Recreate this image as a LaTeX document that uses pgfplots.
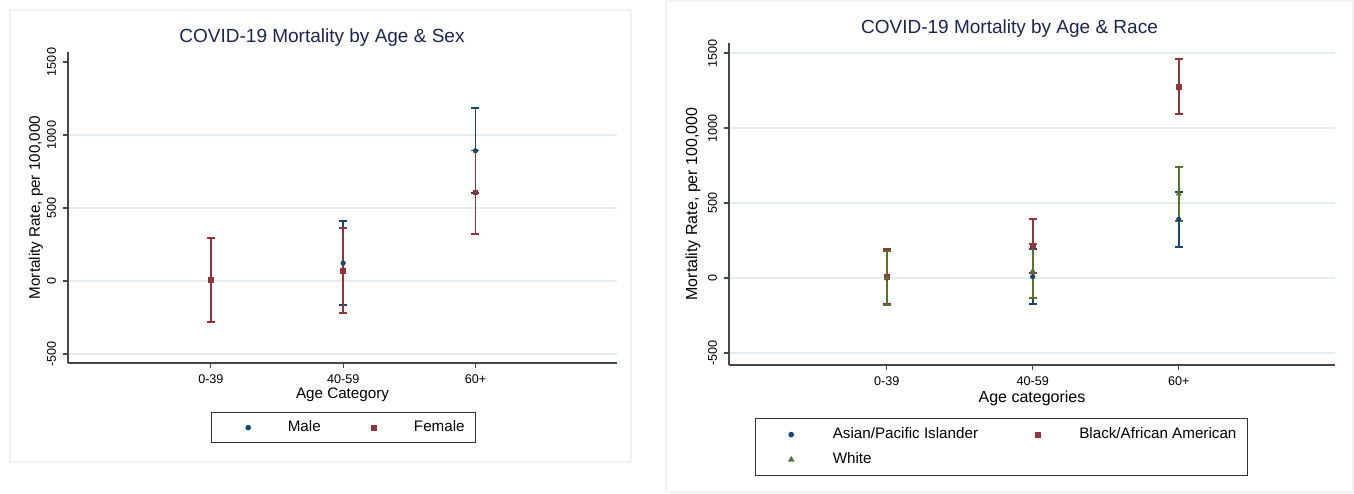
\documentclass[border=0pt]{standalone}
\usepackage{fontspec}
\setmainfont{Liberation Sans}
\usepackage{pgfplots}
\usepackage{pgfplotstable}
\pgfplotsset{compat=1.18}

\definecolor{stnavy}{RGB}{26,71,111}
\definecolor{stmaroon}{RGB}{144,53,59}
\definecolor{stgreen}{RGB}{85,117,47}
\definecolor{stgrid}{RGB}{228,238,241}
\definecolor{sttitle}{RGB}{26,38,84}
\definecolor{stframe}{RGB}{242,242,242}

% mean with lower / upper bound
\pgfplotstableread{
x  y    lo    hi
1  5    -283  297
2  123  -164  411
3  892  601   1183
}\male
\pgfplotstableread{
x  y    lo    hi
1  5    -283  297
2  71   -217  361
3  607  320   894
}\female
\pgfplotstableread{
x  y    lo    hi
1  0    -180  182
2  9    -173  191
3  391  209   575
}\asian
\pgfplotstableread{
x  y     lo    hi
1  10    -176  192
2  213   31    395
3  1276  1093  1458
}\black
\pgfplotstableread{
x  y    lo    hi
1  2    -182  183
2  47   -136  229
3  562  378   742
}\white

\pgfplotsset{
  stata/.style={
    scale only axis,
    xmin=-0.08, xmax=4.07,
    axis x line*=bottom, axis y line*=left,
    axis line style={black!72, line width=0.6pt},
    tick style={black!72, line width=0.6pt},
    tick align=outside,
    major tick length=2.5pt,
    xtick={1,2,3}, xticklabels={0-39,40-59,60+},
    ymajorgrids,
    grid style={stgrid, line width=0.7pt},
    ticklabel style={font=\fontsize{6.3}{7}\selectfont},
    yticklabel style={rotate=90, anchor=south},
    legend cell align=left,
    legend style={draw=black!80, line width=0.6pt, inner xsep=5.5pt, inner ysep=4pt,
      font=\fontsize{7.6}{9}\selectfont, anchor=north west, nodes={inner sep=0pt}},
  },
  ci/.style={only marks, color=#1, mark options={draw=#1, fill=#1},
    error bars/y dir=both, error bars/y explicit,
    error bars/error bar style={draw=#1, line width=0.95pt},
    error bars/error mark options={draw=#1, mark size=2pt, line width=0.95pt, rotate=90}},
}

\begin{document}
\begin{tikzpicture}
\useasboundingbox (0,0) rectangle (677pt,246.5pt);
% faint panel frames
\draw[stframe, line width=0.6pt] (5pt,15.5pt) rectangle (315.5pt,241.5pt);
\draw[stframe, line width=0.6pt] (333pt,0.5pt) rectangle (676.5pt,246pt);

\node[font=\fontsize{9.5}{11}\selectfont, text=sttitle] at (161pt,227.5pt) {COVID-19 Mortality by Age \& Sex};
\node[font=\fontsize{9.5}{11}\selectfont, text=sttitle] at (504.75pt,232pt) {COVID-19 Mortality by Age \& Race};

\begin{axis}[stata, at={(34pt,65pt)}, anchor=south west,
  width=274.5pt, height=155.5pt,
  ymin=-561.6, ymax=1568.5,
  ytick={-500,0,500,1000}, yticklabels={-500,0,500,1000},
  extra y ticks={1500}, extra y tick labels={1500},
  extra y tick style={ymajorgrids=false},
  xlabel={Age Category}, ylabel={Mortality Rate, per 100,000},
  every axis x label/.style={at={(axis description cs:0.5,-0.1029)}, anchor=center, font=\fontsize{7.6}{9}\selectfont},
  every axis y label/.style={at={(axis description cs:-0.0583,0.5)}, rotate=90, anchor=center, font=\fontsize{7.6}{9}\selectfont},
  legend columns=2,
  legend style={at={(0.2605,-0.1576)}, /tikz/every even column/.append style={column sep=14pt}},
  legend image code/.code={\path (-12.5pt,0pt) (19.5pt,0pt); \draw[#1] plot coordinates {(0pt,0pt)};},
]
\addplot[ci=stnavy, mark=*, mark size=1.1pt] table[x=x, y=y, y error plus expr=\thisrow{hi}-\thisrow{y}, y error minus expr=\thisrow{y}-\thisrow{lo}] {\male};
\addplot[ci=stmaroon, mark=square*, mark size=1.2pt] table[x=x, y=y, y error plus expr=\thisrow{hi}-\thisrow{y}, y error minus expr=\thisrow{y}-\thisrow{lo}] {\female};
\legend{Male, Female}
\end{axis}

\begin{axis}[stata, at={(364.5pt,64pt)}, anchor=south west,
  width=303pt, height=161pt,
  ymin=-580, ymax=1566.7,
  ytick={-500,0,500,1000,1500}, yticklabels={-500,0,500,1000,1500},
  xlabel={Age categories}, ylabel={Mortality Rate, per 100,000},
  every axis x label/.style={at={(axis description cs:0.5,-0.1025)}, anchor=center, font=\fontsize{8}{9}\selectfont},
  every axis y label/.style={at={(axis description cs:-0.0594,0.5)}, rotate=90, anchor=center, font=\fontsize{8}{9}\selectfont},
  legend columns=2,
  legend style={at={(0.0429,-0.1646)}, row sep=5.5pt, inner ysep=4.5pt,
    /tikz/every even column/.append style={column sep=17.5pt}},
  legend image code/.code={\path (-12pt,0pt) (20.5pt,0pt); \draw[#1] plot coordinates {(0pt,0pt)};},
]
\addplot[ci=stnavy, mark=*, mark size=1.1pt] table[x=x, y=y, y error plus expr=\thisrow{hi}-\thisrow{y}, y error minus expr=\thisrow{y}-\thisrow{lo}] {\asian};
\addplot[ci=stmaroon, mark=square*, mark size=1.2pt] table[x=x, y=y, y error plus expr=\thisrow{hi}-\thisrow{y}, y error minus expr=\thisrow{y}-\thisrow{lo}] {\black};
\addplot[ci=stgreen, mark=triangle*, mark size=1.3pt] table[x=x, y=y, y error plus expr=\thisrow{hi}-\thisrow{y}, y error minus expr=\thisrow{y}-\thisrow{lo}] {\white};
\legend{Asian/Pacific Islander, Black/African American, White}
\end{axis}
\end{tikzpicture}
\end{document}
